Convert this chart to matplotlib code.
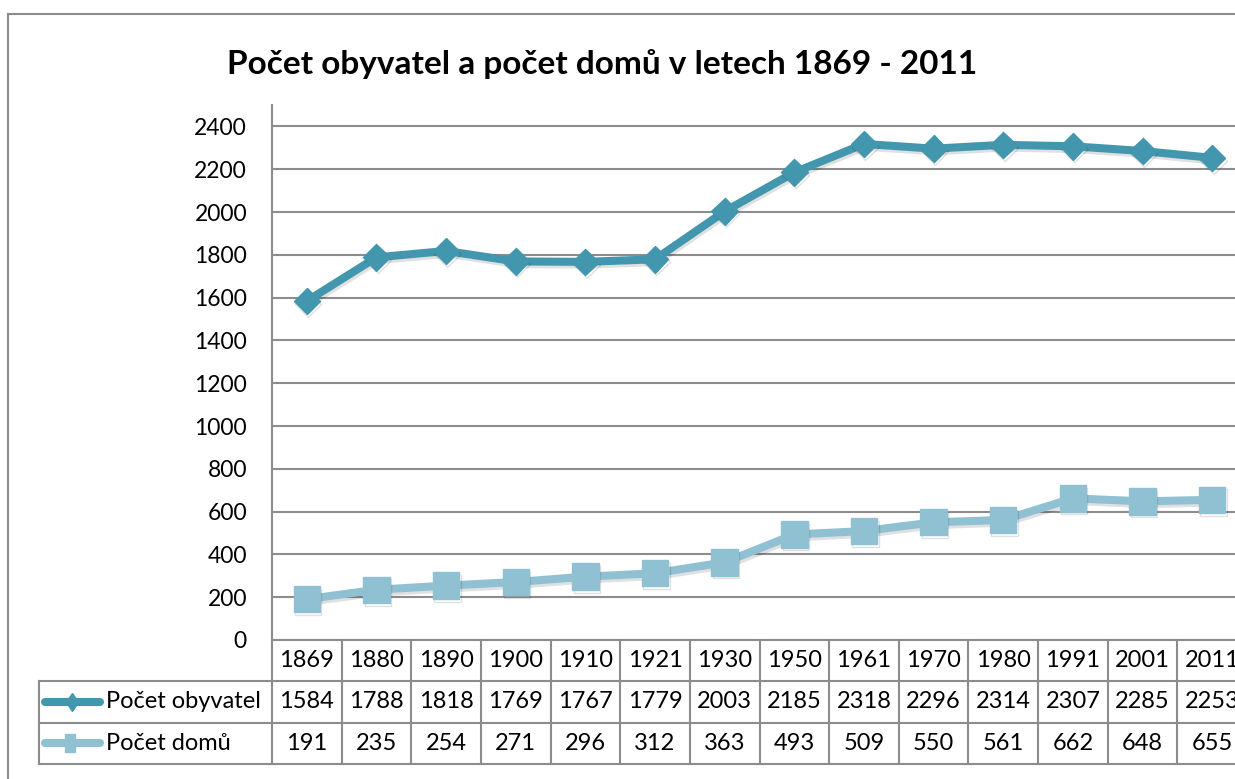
import numpy as np
import matplotlib.pyplot as plt
import matplotlib.patheffects as pe
from matplotlib.lines import Line2D
from matplotlib.transforms import blended_transform_factory

plt.rcParams['font.family'] = ['Lato', 'DejaVu Sans']

roky = ['1869', '1880', '1890', '1900', '1910', '1921', '1930', '1950',
        '1961', '1970', '1980', '1991', '2001', '2011']
obyvatel = [1584, 1788, 1818, 1769, 1767, 1779, 2003, 2185, 2318, 2296,
            2314, 2307, 2285, 2253]
domu = [191, 235, 254, 271, 296, 312, 363, 493, 509, 550, 561, 662, 648, 655]
nazvy = ['Počet obyvatel', 'Počet domů']

tmava = '#4297ae'
svetla = '#8fc1d3'
seda = '#8c8c8c'
W, H = 1235, 779

fig = plt.figure(figsize=(W / 100, H / 100), dpi=100)
ax = fig.add_axes([272 / W, 1 - 640 / H, 975 / W, 535 / H])

x = np.arange(len(roky))
stin = [pe.SimpleLineShadow(offset=(1, -2), alpha=0.12, rho=0.5), pe.Normal()]
ax.plot(x, obyvatel, color=tmava, lw=5.8, marker='D', ms=13.5,
        path_effects=stin, zorder=3)
ax.plot(x, domu, color=svetla, lw=5.8, marker='s', ms=19,
        path_effects=stin, zorder=3)

ax.set_xlim(-0.5, len(roky) - 0.5)
ax.set_ylim(0, 2500)
ax.set_yticks(np.arange(0, 2401, 200))
ax.set_xticks([])
ax.tick_params(axis='y', length=0, pad=18, labelsize=16.5)
ax.yaxis.grid(True, color=seda, lw=1.5)
ax.set_axisbelow(True)
for s in ['top', 'right', 'bottom']:
    ax.spines[s].set_visible(False)
ax.spines['left'].set_color(seda)
ax.spines['left'].set_linewidth(1.5)

# tabulka dat pod grafem
tr = blended_transform_factory(ax.transData, ax.transAxes)
def fy(py):
    return (640 - py) / 535

sirka = 975 / 14
def fx(px):
    return (px - 272) / sirka - 0.5

radky = [640, 681, 722.5, 764]
levy = fx(39)
n = len(roky)
ax.add_line(Line2D([-0.5, n - 0.5], [fy(640)] * 2, color=seda, lw=1.5,
                   transform=tr, clip_on=False))
for py in radky[1:]:
    ax.add_line(Line2D([levy, n - 0.5], [fy(py)] * 2, color=seda, lw=1.5,
                       transform=tr, clip_on=False))
for i in range(n + 1):
    ax.add_line(Line2D([i - 0.5] * 2, [fy(640), fy(764)], color=seda, lw=1.5,
                       transform=tr, clip_on=False))
ax.add_line(Line2D([levy] * 2, [fy(681), fy(764)], color=seda, lw=1.5,
                   transform=tr, clip_on=False))

for i in range(n):
    ax.text(i, fy(660.5), roky[i], transform=tr, ha='center', va='center',
            fontsize=17)
    ax.text(i, fy(701.7), str(obyvatel[i]), transform=tr, ha='center',
            va='center', fontsize=17)
    ax.text(i, fy(743), str(domu[i]), transform=tr, ha='center',
            va='center', fontsize=17)

# legenda v tabulce
ax.add_line(Line2D([fx(45), fx(100)], [fy(701.7)] * 2, color=tmava, lw=5.8,
                   solid_capstyle='round', transform=tr, clip_on=False))
ax.add_line(Line2D([fx(72)], [fy(701.7)], color=tmava, marker='d', ms=9.5,
                   transform=tr, clip_on=False))
ax.add_line(Line2D([fx(45), fx(100)], [fy(743)] * 2, color=svetla, lw=5.8,
                   solid_capstyle='round', transform=tr, clip_on=False))
ax.add_line(Line2D([fx(70)], [fy(743)], color=svetla,
                   marker=[(-1, -2), (1, -2), (1, 2), (-1, 2), (-1, -2)],
                   ms=13, transform=tr, clip_on=False))
ax.text(fx(106), fy(701.7), nazvy[0], transform=tr, ha='left', va='center',
        fontsize=17)
ax.text(fx(106), fy(743), nazvy[1], transform=tr, ha='left', va='center',
        fontsize=17)

# ramecek grafu
fig.add_artist(Line2D([8 / W, 8 / W], [1 - 14 / H, 0], color=seda, lw=1.5))
fig.add_artist(Line2D([8 / W, 1], [1 - 14 / H] * 2, color=seda, lw=1.5))

fig.text(602 / W, 1 - 64 / H, 'Počet obyvatel a počet domů v letech 1869 - 2011',
         ha='center', va='center', fontsize=24, fontweight='bold')

fig.savefig('out.png', dpi=100)
